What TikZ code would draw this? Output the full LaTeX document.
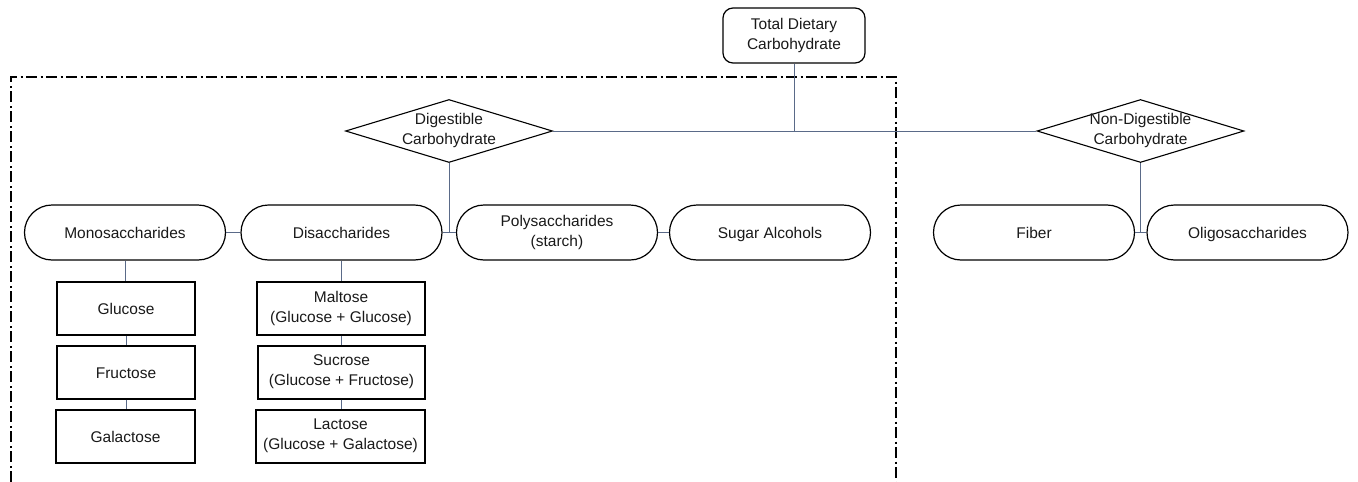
\documentclass[tikz,border=0pt]{standalone}
\usepackage{fontspec}
\setmainfont{Liberation Sans}
\usetikzlibrary{shapes.misc,shapes.geometric}
\definecolor{conn}{HTML}{5A6A88}
\newcommand\lineprop{\rule[-4pt]{0pt}{20pt}}
\begin{document}
\begin{tikzpicture}[x=1pt,y=-1pt,
  every node/.style={font=\fontsize{15.5}{20}\selectfont, align=center, text=black!90,
    execute at begin node=\lineprop, execute at end node=\lineprop},
  pill/.style={rounded rectangle, draw, line width=1.2pt, minimum width=201pt, minimum height=55pt, inner sep=0pt},
  leaf/.style={rectangle, draw, line width=1.2pt, minimum height=53pt, inner sep=0pt},
  choice/.style={diamond, draw, line width=1.1pt, aspect=3.3, minimum width=207pt, minimum height=63pt, inner sep=0pt},
  topbox/.style={rectangle, rounded corners=10pt, draw, line width=1.2pt, minimum width=142pt, minimum height=55pt, inner sep=0pt},
  link/.style={draw=conn, line width=0.9pt},
  frame/.style={line width=1.2pt, dash pattern=on 11pt off 3.5pt on 2pt off 3.5pt}]
\useasboundingbox (0,0) rectangle (1358,482);

\draw[frame] (11,482) -- (11,77) -- (896,77) -- (896,482);

\node[topbox] (total) at (794,35.5) {Total Dietary\\Carbohydrate};
\node[choice, label={[align=center]center:Digestible\\Carbohydrate}] (dig) at (449,131) {};
\node[choice, label={[align=center]center:Non-Digestible\\Carbohydrate}] (nondig) at (1140.5,131) {};

\node[pill] (mono) at (125,232.5) {Monosaccharides};
\node[pill] (disacc) at (341.5,232.5) {Disaccharides};
\node[pill] (poly) at (557,232.5) {Polysaccharides\\(starch)};
\node[pill] (sugar) at (770,232.5) {Sugar Alcohols};
\node[pill] (fiber) at (1034,232.5) {Fiber};
\node[pill] (oligo) at (1247.5,232.5) {Oligosaccharides};

\node[leaf, minimum width=138pt] (glu) at (126,308.5) {Glucose};
\node[leaf, minimum width=138pt] (fru) at (126,372.5) {Fructose};
\node[leaf, minimum width=139pt] (gal) at (125.5,436.5) {Galactose};
\node[leaf, minimum width=168pt] (mal) at (341,308.5) {Maltose\\(Glucose + Glucose)};
\node[leaf, minimum width=167pt] (suc) at (341.5,372.5) {Sucrose\\(Glucose + Fructose)};
\node[leaf, minimum width=169pt] (lac) at (340.5,436.5) {Lactose\\(Glucose + Galactose)};

\draw[link] (dig.east) -- (nondig.west);
\draw[link] (total.south) -- (total.south |- dig.east);
\draw[link] (dig.south) -- (dig.south |- disacc.east);
\draw[link] (mono.east) -- (disacc.west);
\draw[link] (disacc.east) -- (poly.west);
\draw[link] (poly.east) -- (sugar.west);
\draw[link] (nondig.south) -- (nondig.south |- fiber.east);
\draw[link] (fiber.east) -- (oligo.west);
\draw[link] (mono.south) -- (mono.south |- glu.north);
\draw[link] (glu.south) -- (fru.north);
\draw[link] (fru.south) -- (fru.south |- gal.north);
\draw[link] (disacc.south) -- (disacc.south |- mal.north);
\draw[link] (mal.south) -- (mal.south |- suc.north);
\draw[link] (suc.south) -- (suc.south |- lac.north);
\end{tikzpicture}
\end{document}
